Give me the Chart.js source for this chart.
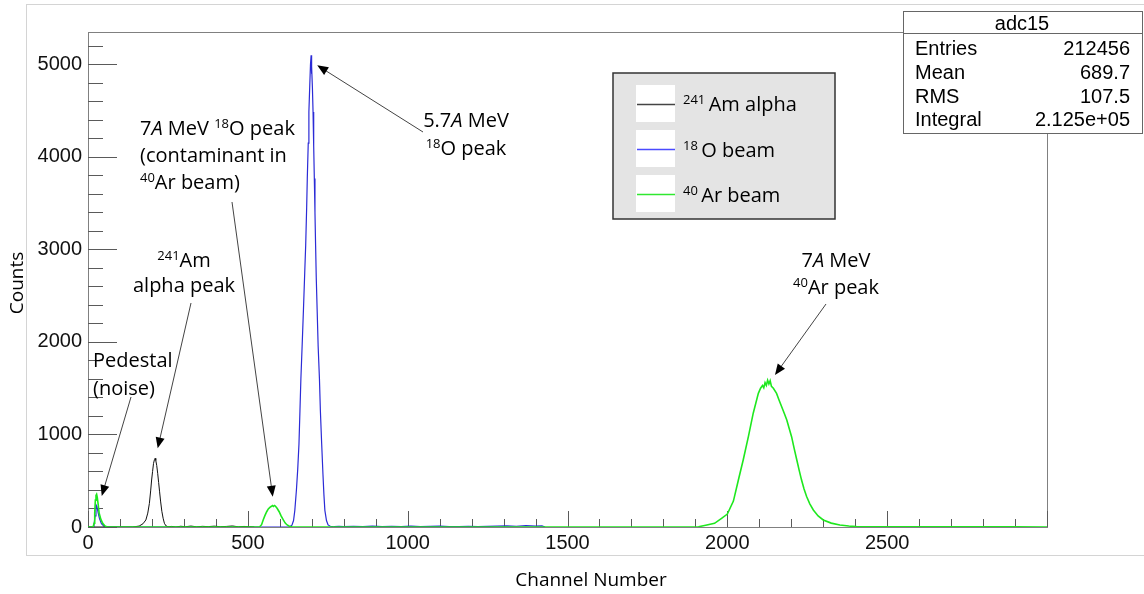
<!DOCTYPE html>
<html>
<head>
<meta charset="utf-8">
<script src="https://cdn.jsdelivr.net/npm/chart.js@4.4.1/dist/chart.umd.min.js"></script>
<style>
  html, body { margin: 0; padding: 0; background: #fff; }
  canvas { display: block; }
</style>
</head>
<body>
<canvas id="spectrum" width="1144" height="594"></canvas>
<script>
// adc15 spectrum, counts per channel
const amChannels = [0, 140, 160, 172, 181, 187, 192, 196, 199, 202, 205, 208, 210, 212, 215, 218, 221, 224, 227, 231,
  235, 239, 244, 250, 262, 275, 290, 305, 322, 340, 358, 376, 395, 414, 433, 452, 470, 488, 505, 520];
const amCounts = [0, 0, 10, 35, 76, 150, 255, 390, 508, 600, 688, 730, 742, 720, 665, 580, 480, 380, 280, 170,
  95, 40, 12, 3, 6, 0, 8, 3, 10, 2, 7, 4, 9, 3, 6, 11, 2, 6, 3, 0];

const oChannels = [0, 18, 22, 25, 28, 32, 36, 42, 50, 60, 630, 638, 643, 647, 652, 656, 660, 663, 666, 670,
  674, 678, 681, 684, 686, 689, 691, 694, 696, 698, 699, 700, 702, 704, 706, 708, 710, 712, 714, 717,
  720, 724, 727, 731, 735, 738, 741, 746, 751, 758, 770, 785, 800, 830, 860, 890, 920, 950, 980, 1010,
  1040, 1070, 1100, 1130, 1160, 1190, 1220, 1250, 1280, 1310, 1340, 1370, 1400, 1420, 1430];
const oCounts = [0, 0, 120, 240, 220, 150, 90, 35, 8, 0, 0, 20, 70, 180, 400, 620, 900, 1250, 1606, 1970,
  2350, 2750, 3046, 3450, 3766, 4150, 4485, 4800, 5000, 5098, 4900, 4980, 4750, 4485, 4120, 3766, 3400, 3046, 2700, 2326,
  1950, 1606, 1250, 900, 570, 350, 180, 70, 22, 8, 3, 6, 3, 8, 4, 10, 5, 7, 3, 9,
  4, 6, 10, 5, 3, 8, 4, 6, 9, 12, 8, 14, 10, 12, 0];

const arChannels = [0, 16, 19, 21, 23, 25, 27, 29, 32, 35, 40, 46, 52, 58, 70, 530, 537, 543, 548, 553,
  559, 564, 569, 574, 577, 580, 583, 586, 592, 598, 604, 611, 617, 623, 630, 638, 645, 1880, 1910, 1936,
  1960, 1982, 2000, 2019, 2034, 2050, 2066, 2081, 2097, 2104, 2110, 2114, 2118, 2122, 2126, 2130, 2134, 2138, 2144, 2154,
  2162, 2170, 2178, 2186, 2194, 2201, 2209, 2217, 2225, 2232, 2240, 2248, 2258, 2269, 2284, 2300, 2325, 2352, 2380, 2404,
  2450, 2520, 2600, 2700, 2800, 2900, 3000];
const arCounts = [0, 0, 40, 150, 290, 340, 353, 320, 240, 148, 85, 40, 15, 3, 0, 0, 3, 25, 76, 120,
  165, 195, 212, 224, 232, 222, 233, 226, 200, 165, 120, 76, 42, 22, 8, 2, 0, 0, 3, 22,
  40, 94, 140, 280, 500, 730, 980, 1230, 1445, 1500, 1530, 1505, 1560, 1530, 1585, 1545, 1580, 1520, 1500, 1444,
  1370, 1300, 1230, 1156, 1060, 976, 850, 730, 610, 510, 410, 330, 250, 184, 120, 76, 42, 22, 10, 4,
  1, 2, 1, 2, 1, 2, 0];

const xTicks = [0, 500, 1000, 1500, 2000, 2500];
const yTicks = [0, 1000, 2000, 3000, 4000, 5000];

const legendSup = ['241', '18', '40'];
const legendText = ['Am alpha', 'O beam', 'Ar beam'];
const colors = ['#111111', '#2b2bd6', '#1ee81e'];
const legendColors = ['#444444', '#4a4aff', '#30e830'];

const statTitle = 'adc15';
const statLabels = ['Entries', 'Mean', 'RMS', 'Integral'];
const statValues = ['212456', '689.7', '107.5', '2.125e+05'];

const SANS = '"Open Sans", "Noto Sans", sans-serif';
const ARIAL = '"Liberation Sans", Arial, sans-serif';

// text pieces: [text, kind] with kind '' / 'i' italic / 's' superscript
const notes = [
  { lines: [[['Pedestal']], [['(noise)']]], x: 93, y: [367, 395], align: 'left', from: [131, 397], to: [43, 335] },
  { lines: [[['241', 's'], ['Am']], [['alpha peak']]], x: 184, y: [267, 292], align: 'center', from: [191, 303], to: [218, 850] },
  { lines: [[['7'], ['A', 'i'], [' MeV '], ['18', 's'], ['O peak']], [['(contaminant in']], [['40', 's'], ['Ar beam)']]],
    x: 140, y: [135, 162, 189], align: 'left', from: [232, 202], to: [578, 327] },
  { lines: [[['5.7'], ['A', 'i'], [' MeV']], [['18', 's'], ['O peak']]], x: 466, y: [127, 155], align: 'center', from: [423, 132], to: [717, 4990] },
  { lines: [[['7'], ['A', 'i'], [' MeV']], [['40', 's'], ['Ar peak']]], x: 836, y: [267, 294], align: 'center', from: [826, 304], to: [2149, 1642] },
];

function drawRich(ctx, parts, x, y, align) {
  const fonts = { '': `20px ${SANS}`, i: `italic 20px ${SANS}`, s: `13px ${SANS}` };
  let w = 0;
  parts.forEach(([t, k]) => { ctx.font = fonts[k || '']; w += ctx.measureText(t).width; });
  let cx = align === 'center' ? x - w / 2 : x;
  ctx.textAlign = 'left';
  ctx.textBaseline = 'alphabetic';
  parts.forEach(([t, k]) => {
    ctx.font = fonts[k || ''];
    ctx.fillText(t, cx, k === 's' ? y - 7 : y);
    cx += ctx.measureText(t).width;
  });
}

function line(ctx, x1, y1, x2, y2) {
  ctx.beginPath();
  ctx.moveTo(x1, y1);
  ctx.lineTo(x2, y2);
  ctx.stroke();
}

const framePlugin = {
  id: 'rootFrame',
  beforeDraw(chart) {
    const ctx = chart.ctx;
    ctx.save();
    ctx.fillStyle = '#fff';
    ctx.fillRect(0, 0, chart.width, chart.height);
    ctx.strokeStyle = '#d4d4d4';
    ctx.lineWidth = 1;
    ctx.strokeRect(26.5, 4.5, 1130, 551);
    ctx.restore();
  },
  beforeDatasetsDraw(chart) {
    const ctx = chart.ctx, a = chart.chartArea;
    const xs = chart.scales.x, ys = chart.scales.y;
    ctx.save();
    ctx.lineWidth = 1;
    ctx.strokeStyle = '#808080';
    ctx.strokeRect(Math.round(a.left) + 0.5, Math.round(a.top) + 0.5, Math.round(a.width), Math.round(a.height));
    ctx.strokeStyle = '#5a5a5a';
    for (let v = 0; v <= xs.max; v += 100) {
      const px = Math.round(xs.getPixelForValue(v)) + 0.5;
      line(ctx, px, a.bottom, px, a.bottom - (v % 500 === 0 ? 16 : 8));
    }
    for (let v = 0; v <= ys.max; v += 200) {
      const py = Math.round(ys.getPixelForValue(v)) + 0.5;
      line(ctx, a.left, py, a.left + (v % 1000 === 0 ? 29 : 15), py);
    }
    ctx.restore();
  },
  afterDatasetsDraw(chart) {
    const ctx = chart.ctx;
    const xs = chart.scales.x, ys = chart.scales.y;
    ctx.save();
    ctx.fillStyle = '#000';
    notes.forEach(n => {
      n.lines.forEach((parts, i) => drawRich(ctx, parts, n.x, n.y[i], n.align));
      // arrow from the label to the peak
      const tx = xs.getPixelForValue(n.to[0]), ty = ys.getPixelForValue(n.to[1]);
      const [fx, fy] = n.from;
      const ang = Math.atan2(ty - fy, tx - fx);
      ctx.strokeStyle = '#444';
      ctx.lineWidth = 1;
      line(ctx, fx, fy, tx - 6 * Math.cos(ang), ty - 6 * Math.sin(ang));
      ctx.fillStyle = '#000';
      ctx.beginPath();
      ctx.moveTo(tx, ty);
      ctx.lineTo(tx - 11 * Math.cos(ang) + 4.5 * Math.sin(ang), ty - 11 * Math.sin(ang) - 4.5 * Math.cos(ang));
      ctx.lineTo(tx - 11 * Math.cos(ang) - 4.5 * Math.sin(ang), ty - 11 * Math.sin(ang) + 4.5 * Math.cos(ang));
      ctx.closePath();
      ctx.fill();
    });

    // axis titles
    ctx.font = `19px ${SANS}`;
    ctx.textAlign = 'center';
    ctx.textBaseline = 'middle';
    ctx.fillText('Channel Number', 591, 581);
    ctx.save();
    ctx.translate(18, 283);
    ctx.rotate(-Math.PI / 2);
    ctx.fillText('Counts', 0, 0);
    ctx.restore();
    ctx.restore();
  },
  afterDraw(chart) {
    const ctx = chart.ctx;
    ctx.save();
    // legend box
    ctx.fillStyle = '#e4e4e4';
    ctx.fillRect(613, 73, 222, 146);
    ctx.strokeStyle = '#333';
    ctx.lineWidth = 1.5;
    ctx.strokeRect(613, 73, 222, 146);
    const rowTop = [85, 130, 175], rowBase = [111, 157, 202];
    chart.data.datasets.forEach((ds, i) => {
      ctx.fillStyle = '#fff';
      ctx.fillRect(636, rowTop[i], 39, 37);
      ctx.strokeStyle = legendColors[i];
      ctx.lineWidth = 1.4;
      line(ctx, 637, rowTop[i] + 19.5, 675, rowTop[i] + 19.5);
      ctx.fillStyle = '#000';
      drawRich(ctx, [[legendSup[i] + ' ', 's'], [legendText[i]]], 683, rowBase[i], 'left');
    });

    // stats box
    ctx.fillStyle = '#fff';
    ctx.fillRect(903, 11, 240, 123);
    ctx.strokeStyle = '#666';
    ctx.lineWidth = 1;
    ctx.strokeRect(903.5, 11.5, 239, 122);
    line(ctx, 903, 33.5, 1143, 33.5);
    ctx.fillStyle = '#000';
    ctx.font = `20px ${ARIAL}`;
    ctx.textBaseline = 'alphabetic';
    ctx.textAlign = 'center';
    ctx.fillText(statTitle, 1022, 30);
    const base = [55, 79, 103, 126];
    statLabels.forEach((l, i) => {
      ctx.textAlign = 'left';
      ctx.fillText(l, 915, base[i]);
      ctx.textAlign = 'right';
      ctx.fillText(statValues[i], 1130, base[i]);
    });
    ctx.restore();
  }
};

const toPoints = (xs, ys) => xs.map((x, i) => ({ x, y: ys[i] }));
const seriesStyle = { pointRadius: 0, tension: 0, fill: false };

new Chart(document.getElementById('spectrum'), {
  type: 'line',
  data: {
    datasets: [
      { label: '241 Am alpha', data: toPoints(amChannels, amCounts), borderColor: colors[0], borderWidth: 1, order: 1, ...seriesStyle },
      { label: '18 O beam', data: toPoints(oChannels, oCounts), borderColor: colors[1], borderWidth: 1.2, order: 2, ...seriesStyle },
      { label: '40 Ar beam', data: toPoints(arChannels, arCounts), borderColor: colors[2], borderWidth: 1.6, order: 0, ...seriesStyle },
    ]
  },
  options: {
    responsive: false,
    animation: false,
    layout: { padding: { top: 32, right: 97, bottom: 0, left: 0 } },
    plugins: { legend: { display: false }, tooltip: { enabled: false }, title: { display: false } },
    scales: {
      x: {
        type: 'linear',
        min: 0,
        max: 3000,
        afterFit: (s) => { s.height = 67; },
        afterBuildTicks: (s) => { s.ticks = xTicks.map(value => ({ value })); },
        grid: { display: false, drawTicks: false },
        border: { display: false },
        ticks: { font: { family: ARIAL, size: 20 }, color: '#111', padding: 4, maxRotation: 0, autoSkip: false,
          callback: (v) => String(v) }
      },
      y: {
        type: 'linear',
        min: 0,
        max: 5350,
        afterFit: (s) => { s.width = 88; },
        afterBuildTicks: (s) => { s.ticks = yTicks.map(value => ({ value })); },
        grid: { display: false, drawTicks: false },
        border: { display: false },
        ticks: { font: { family: ARIAL, size: 20 }, color: '#111', padding: 6, autoSkip: false,
          callback: (v) => String(v) }
      }
    }
  },
  plugins: [framePlugin]
});
</script>
</body>
</html>
